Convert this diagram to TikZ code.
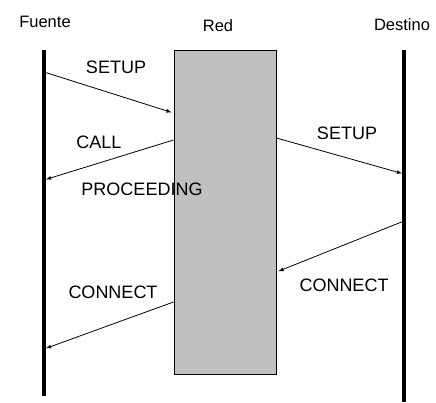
\documentclass[tikz,border=0pt]{standalone}
\usepackage{xcolor}
\usepackage{fontspec}
\usepackage{tikz}
\setmainfont{Liberation Sans}

\definecolor{redgray}{HTML}{C0C0C0}

\begin{document}
\begin{tikzpicture}[x=1pt,y=-1pt,
	lifeline/.style={line width=3.5pt},
	msg/.style={-latex,line width=0.8pt,shorten >=2pt},
	lbl/.style={font=\fontsize{16.5}{19}\selectfont,inner sep=0pt},
	msglbl/.style={font=\fontsize{18}{21}\selectfont,inner sep=0pt}]

\useasboundingbox (0,0) rectangle (436,402);

% lifelines
\coordinate (Ftop) at (44,50);
\coordinate (Fbot) at (44,396);
\coordinate (Dtop) at (404,50);
\coordinate (Dbot) at (404,402);
\draw[lifeline] (Ftop) -- (Fbot);
\draw[lifeline] (Dtop) -- (Dbot);

\node[lbl] (fuente) at (45,22) {Fuente};
\node[lbl] (destino) at (402,25) {Destino};

% the network
\node[draw,fill=redgray,line width=1pt,minimum width=102,minimum height=324,inner sep=0pt] (red) at (225,212) {};
\node[lbl] (redlbl) at (218,26) {Red};

% message end points
\coordinate (f1) at (44,72);
\coordinate (f2) at (44,180);
\coordinate (f3) at (44,349);
\coordinate (d1) at (404,174);
\coordinate (d2) at (404,221);
\coordinate (r1) at (red.west |- 0,113);
\coordinate (r2) at (red.west |- 0,140);
\coordinate (r3) at (red.east |- 0,138);
\coordinate (r4) at (red.east |- 0,272);
\coordinate (r5) at (red.west |- 0,302);

\draw[msg] (f1) -- (r1);
\draw[msg] (r2) -- (f2);
\draw[msg] (r3) -- (d1);
\draw[msg] (d2) -- (r4);
\draw[msg] (r5) -- (f3);

\node[msglbl] (setupA) at (116,67) {SETUP};
\node[msglbl] (call) at (99,142) {CALL};
\node[msglbl] (proc) at (142,189) {PROCEEDING};
\node[msglbl] (setupB) at (347,133) {SETUP};
\node[msglbl] (connB) at (344,285) {CONNECT};
\node[msglbl] (connA) at (113,292) {CONNECT};

\end{tikzpicture}
\end{document}
